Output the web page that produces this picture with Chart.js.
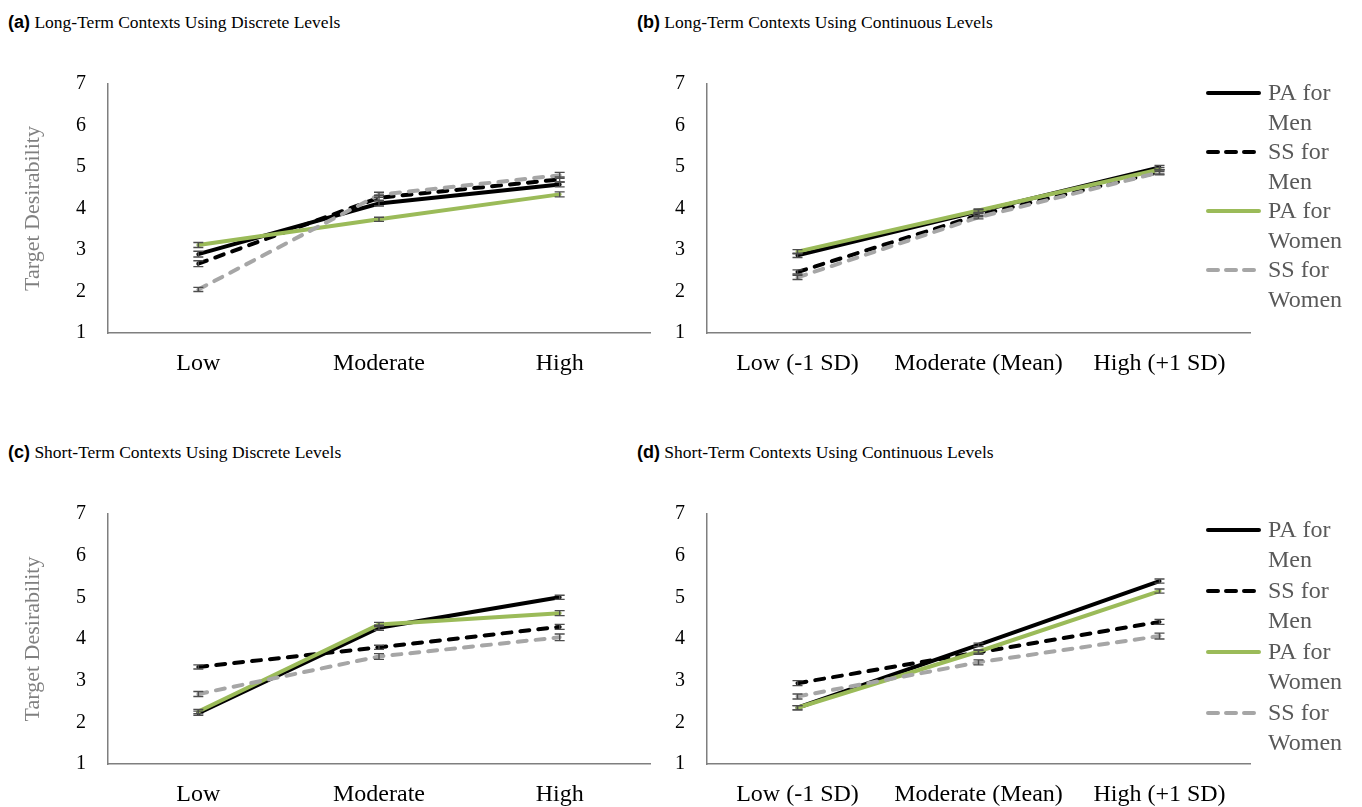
<!DOCTYPE html>
<html><head><meta charset="utf-8">
<script src="https://cdn.jsdelivr.net/npm/chart.js@4/dist/chart.umd.min.js"></script>
<style>
body{margin:0;width:1362px;height:807px;overflow:hidden;background:#fff;position:relative}
.t{position:absolute;font-family:"Liberation Serif","Times New Roman",serif;font-size:17.5px;line-height:22px;color:#000;white-space:nowrap}
.t b{font-family:"Liberation Sans",Arial,sans-serif;font-weight:bold;font-size:18px}
canvas{position:absolute}
</style></head><body>
<div class="t" style="left:8px;top:11px"><b>(a)</b> Long-Term Contexts Using Discrete Levels</div>
<div class="t" style="left:637px;top:11px"><b>(b)</b> Long-Term Contexts Using Continuous Levels</div>
<div class="t" style="left:8px;top:441px"><b>(c)</b> Short-Term Contexts Using Discrete Levels</div>
<div class="t" style="left:637px;top:441px"><b>(d)</b> Short-Term Contexts Using Continuous Levels</div>
<canvas id="ca" width="680" height="327" style="left:0;top:50px"></canvas>
<canvas id="cb" width="722" height="327" style="left:640px;top:50px"></canvas>
<canvas id="cc" width="680" height="327" style="left:0;top:480px"></canvas>
<canvas id="cd" width="722" height="327" style="left:640px;top:480px"></canvas>
<script>
// ---- data ----
const discreteCats = ['Low', 'Moderate', 'High'];
const continuousCats = ['Low (-1 SD)', 'Moderate (Mean)', 'High (+1 SD)'];
const seriesNames = ['PA for Men', 'SS for Men', 'PA for Women', 'SS for Women'];
const yTickMin = 1, yTickMax = 7, yTickStep = 1;
const yTitle = 'Target Desirability';

// (a) Long-term, discrete
const aPAMen    = [2.90, 4.12, 4.58];
const aSSMen    = [2.67, 4.26, 4.70];
const aPAWomen  = [3.12, 3.74, 4.34];
const aSSWomen  = [2.05, 4.33, 4.80];
const aPAMenErr = [0.07, 0.06, 0.06];
const aSSMenErr = [0.07, 0.06, 0.06];
const aPAWomenErr = [0.06, 0.05, 0.06];
const aSSWomenErr = [0.05, 0.06, 0.07];

// (b) Long-term, continuous
const bPAMen    = [2.87, 3.93, 4.99];
const bSSMen    = [2.47, 3.84, 4.88];
const bPAWomen  = [2.96, 3.95, 4.94];
const bSSWomen  = [2.34, 3.79, 4.87];
const bPAMenErr = [0.05, 0.04, 0.05];
const bSSMenErr = [0.05, 0.04, 0.05];
const bPAWomenErr = [0.05, 0.04, 0.05];
const bSSWomenErr = [0.05, 0.04, 0.06];

// (c) Short-term, discrete
const cPAMen    = [2.22, 4.27, 5.00];
const cSSMen    = [3.33, 3.80, 4.29];
const cPAWomen  = [2.26, 4.35, 4.62];
const cSSWomen  = [2.68, 3.58, 4.04];
const cPAMenErr = [0.05, 0.06, 0.05];
const cSSMenErr = [0.05, 0.05, 0.06];
const cPAWomenErr = [0.05, 0.05, 0.06];
const cSSWomenErr = [0.06, 0.07, 0.08];

// (d) Short-term, continuous
const dPAMen    = [2.35, 3.86, 5.39];
const dSSMen    = [2.94, 3.68, 4.41];
const dPAWomen  = [2.35, 3.70, 5.15];
const dSSWomen  = [2.62, 3.44, 4.07];
const dPAMenErr = [0.05, 0.04, 0.05];
const dSSMenErr = [0.06, 0.05, 0.06];
const dPAWomenErr = [0.05, 0.04, 0.05];
const dSSWomenErr = [0.06, 0.06, 0.07];

// ---- styles ----
const styles = [
  {color: '#000000', dash: []},
  {color: '#000000', dash: [9, 9]},
  {color: '#9BBB59', dash: []},
  {color: '#A6A6A6', dash: [9, 9]}
];

const errorBarPlugin = {
  id: 'errorBars',
  afterDatasetsDraw(chart) {
    const ctx = chart.ctx, ys = chart.scales.y;
    ctx.save();
    ctx.strokeStyle = '#4D4D4D';
    ctx.lineWidth = 1.4;
    ctx.setLineDash([]);
    chart.data.datasets.forEach((ds, i) => {
      const meta = chart.getDatasetMeta(i);
      meta.data.forEach((pt, j) => {
        const e = ds.errors[j];
        const x = pt.x;
        const y1 = ys.getPixelForValue(ds.data[j] + e);
        const y2 = ys.getPixelForValue(ds.data[j] - e);
        ctx.beginPath();
        ctx.moveTo(x, y1); ctx.lineTo(x, y2);
        ctx.moveTo(x - 5, y1); ctx.lineTo(x + 5, y1);
        ctx.moveTo(x - 5, y2); ctx.lineTo(x + 5, y2);
        ctx.stroke();
      });
    });
    ctx.restore();
  }
};

const sideLegendPlugin = {
  id: 'sideLegend',
  afterDraw(chart, args, opts) {
    if (!opts.show) return;
    const ctx = chart.ctx;
    ctx.save();
    ctx.font = '24px "Liberation Serif", "Times New Roman", serif';
    ctx.textBaseline = 'middle';
    ctx.fillStyle = '#595959';
    chart.data.datasets.forEach((ds, i) => {
      const y = opts.top + i * opts.step;
      ctx.beginPath();
      ctx.strokeStyle = ds.borderColor;
      ctx.lineWidth = 4;
      ctx.lineCap = 'round';
      ctx.setLineDash(ds.borderDash.length ? [10, 8] : []);
      ctx.moveTo(opts.x, y); ctx.lineTo(opts.x + 51, y);
      ctx.stroke();
      const parts = ds.label.split(' for ');
      ctx.fillText(parts[0] + ' for', opts.x + 60, y + 1);
      ctx.fillText(parts[1], opts.x + 60, y + 1 + opts.lineGap);
    });
    ctx.restore();
  }
};

function makeChart(id, cats, series, errs, cfg) {
  const datasets = series.map((vals, i) => ({
    label: seriesNames[i],
    data: vals,
    errors: errs[i],
    borderColor: styles[i].color,
    backgroundColor: styles[i].color,
    borderDash: styles[i].dash,
    borderWidth: 4,
    borderCapStyle: 'round',
    pointRadius: 0,
    tension: 0,
    order: 4 - i
  }));
  new Chart(document.getElementById(id), {
    type: 'line',
    data: {labels: cats, datasets},
    plugins: [errorBarPlugin, sideLegendPlugin],
    options: {
      responsive: false,
      animation: false,
      layout: {padding: {top: 27, right: cfg.right, left: 0, bottom: 0}},
      plugins: {
        legend: {display: false},
        tooltip: {enabled: false},
        sideLegend: cfg.legend
      },
      scales: {
        x: {
          type: 'category',
          offset: true,
          grid: {display: false, drawTicks: false},
          border: {display: true, color: '#7F7F7F', width: 1.5},
          ticks: {font: {family: '"Liberation Serif", "Times New Roman", serif', size: 24}, color: '#000', padding: 16, maxRotation: 0, autoSkip: false},
          afterFit(s) { s.height = cfg.xh; }
        },
        y: {
          min: yTickMin, max: yTickMax,
          grid: {display: false, drawTicks: false},
          border: {display: true, color: '#7F7F7F', width: 1.5},
          ticks: {stepSize: yTickStep, font: {family: '"Liberation Serif", "Times New Roman", serif', size: 20}, color: '#000', padding: 22},
          title: cfg.title ? {display: true, text: yTitle, color: '#808080', font: {family: '"Liberation Serif", "Times New Roman", serif', size: 22}, padding: {top: 20, bottom: 0}} : {display: false},
          afterFit(s) { s.width = cfg.yw; }
        }
      }
    }
  });
}

makeChart('ca', discreteCats, [aPAMen, aSSMen, aPAWomen, aSSWomen],
  [aPAMenErr, aSSMenErr, aPAWomenErr, aSSWomenErr],
  {right: 30, yw: 108, xh: 44, title: true, legend: {show: false}});
makeChart('cb', continuousCats, [bPAMen, bSSMen, bPAWomen, bSSWomen],
  [bPAMenErr, bSSMenErr, bPAWomenErr, bSSWomenErr],
  {right: 112, yw: 67, xh: 44, title: false, legend: {show: true, x: 568, top: 43, step: 59, lineGap: 30}});
makeChart('cc', discreteCats, [cPAMen, cSSMen, cPAWomen, cSSWomen],
  [cPAMenErr, cSSMenErr, cPAWomenErr, cSSWomenErr],
  {right: 30, yw: 108, xh: 43, title: true, legend: {show: false}});
makeChart('cd', continuousCats, [dPAMen, dSSMen, dPAWomen, dSSWomen],
  [dPAMenErr, dSSMenErr, dPAWomenErr, dSSWomenErr],
  {right: 112, yw: 67, xh: 43, title: false, legend: {show: true, x: 568, top: 50, step: 61, lineGap: 30}});
</script>
</body></html>
